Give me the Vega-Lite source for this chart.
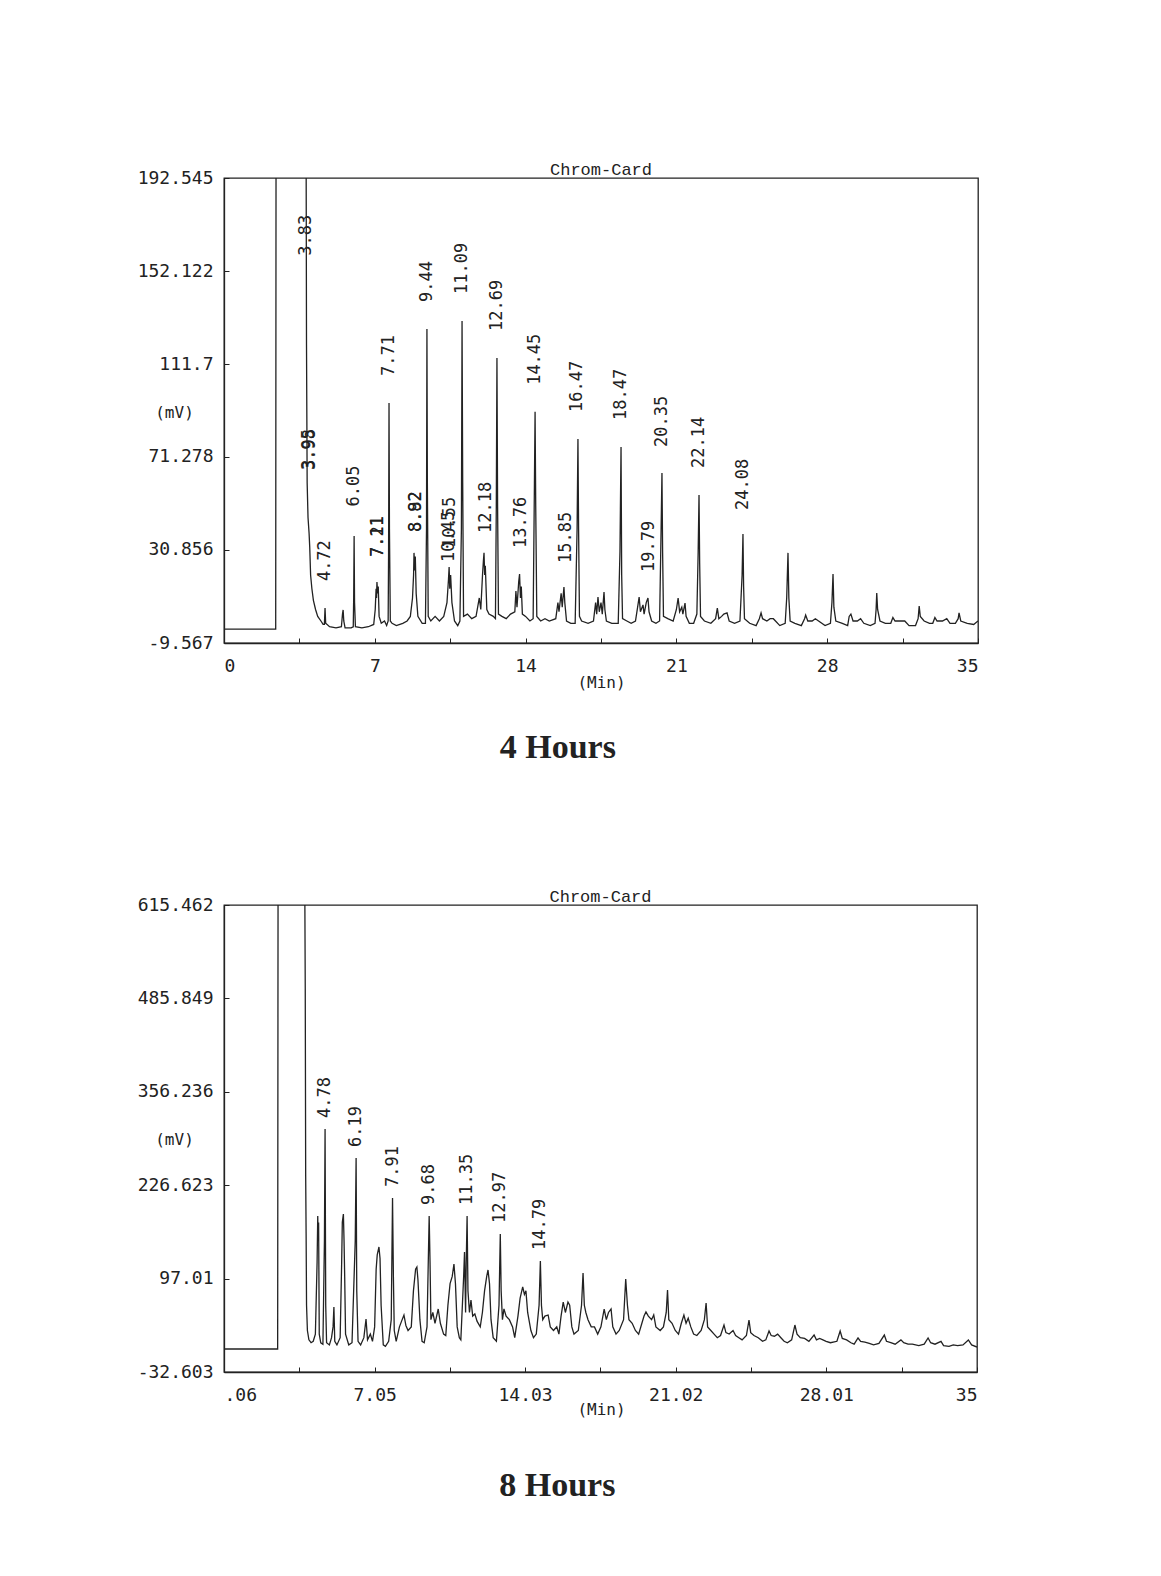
{
  "$schema": "https://vega.github.io/schema/vega-lite/v6.json",
  "background": "white",
  "padding": {"left": 136, "top": 160, "right": 5, "bottom": 5},
  "config": {
    "view": {"stroke": "#222", "strokeWidth": 1.3},
    "axis": {"domainColor": "#222", "domainWidth": 1.3, "tickColor": "#222", "labelColor": "#222", "labelFont": "DejaVu Sans Mono", "labelFontSize": 18, "titleFont": "DejaVu Sans Mono", "titleFontSize": 16, "titleFontWeight": "normal", "titleColor": "#222", "grid": false, "labelOverlap": false, "tickSize": -5},
    "title": {"font": "Liberation Mono", "fontSize": 17, "fontWeight": "normal", "color": "#222"}
  },
  "datasets": {
    "trace4": [
      {"t":0,"v":-3.5},{"t":2.40,"v":-3.5},{"t":2.42,"v":260},{"t":3.80,"v":260},{"t":3.83,"v":120},{"t":3.86,"v":60},{"t":3.90,"v":45},{"t":3.95,"v":38},{"t":3.98,"v":32},{"t":4.02,"v":20},{"t":4.08,"v":14},{"t":4.15,"v":9},{"t":4.25,"v":5},{"t":4.35,"v":2},{"t":4.5,"v":0},{"t":4.6,"v":-1.5},{"t":4.66,"v":-1.5},{"t":4.69,"v":5.6},{"t":4.72,"v":-1},{"t":4.9,"v":-2.5},{"t":5.2,"v":-3},{"t":5.45,"v":-2.5},{"t":5.50,"v":3},{"t":5.53,"v":4.8},{"t":5.56,"v":0},{"t":5.62,"v":-3},{"t":5.9,"v":-3},{"t":6.00,"v":-2.5},{"t":6.02,"v":10},{"t":6.04,"v":36.9},{"t":6.06,"v":8},{"t":6.1,"v":-2.5},{"t":6.4,"v":-3},{"t":6.7,"v":-2.5},{"t":6.95,"v":-1.5},{"t":7.02,"v":5},{"t":7.06,"v":14},{"t":7.08,"v":10},{"t":7.10,"v":16.9},{"t":7.13,"v":12},{"t":7.16,"v":15},{"t":7.2,"v":2},{"t":7.3,"v":-1},{"t":7.45,"v":0},{"t":7.55,"v":-2},{"t":7.62,"v":0},{"t":7.64,"v":30},{"t":7.66,"v":94.8},{"t":7.68,"v":40},{"t":7.72,"v":0},{"t":7.8,"v":-1},{"t":8.0,"v":-2},{"t":8.3,"v":-1},{"t":8.5,"v":0},{"t":8.65,"v":2},{"t":8.75,"v":10},{"t":8.80,"v":20},{"t":8.82,"v":29.6},{"t":8.85,"v":22},{"t":8.88,"v":28},{"t":8.92,"v":12},{"t":9.0,"v":2},{"t":9.2,"v":-1},{"t":9.35,"v":-1},{"t":9.40,"v":40},{"t":9.42,"v":126.9},{"t":9.44,"v":60},{"t":9.48,"v":2},{"t":9.6,"v":0},{"t":9.8,"v":2},{"t":10.0,"v":0},{"t":10.2,"v":2},{"t":10.35,"v":8},{"t":10.42,"v":18},{"t":10.45,"v":23.5},{"t":10.48,"v":14},{"t":10.52,"v":20},{"t":10.58,"v":8},{"t":10.7,"v":0},{"t":10.85,"v":-2},{"t":10.95,"v":0},{"t":11.02,"v":40},{"t":11.05,"v":130.4},{"t":11.08,"v":60},{"t":11.12,"v":2},{"t":11.3,"v":3},{"t":11.5,"v":1},{"t":11.7,"v":2},{"t":11.85,"v":10},{"t":11.92,"v":5},{"t":12.0,"v":20},{"t":12.04,"v":26},{"t":12.07,"v":29.6},{"t":12.10,"v":20},{"t":12.13,"v":24},{"t":12.2,"v":5},{"t":12.3,"v":3},{"t":12.5,"v":2},{"t":12.6,"v":1},{"t":12.64,"v":50},{"t":12.67,"v":114.3},{"t":12.70,"v":50},{"t":12.74,"v":3},{"t":12.9,"v":2},{"t":13.1,"v":1},{"t":13.3,"v":3},{"t":13.5,"v":4},{"t":13.55,"v":13},{"t":13.6,"v":6},{"t":13.68,"v":17},{"t":13.72,"v":20.4},{"t":13.76,"v":10},{"t":13.8,"v":15},{"t":13.85,"v":3},{"t":14.0,"v":2},{"t":14.2,"v":0},{"t":14.35,"v":1},{"t":14.41,"v":60},{"t":14.44,"v":90.9},{"t":14.47,"v":50},{"t":14.52,"v":2},{"t":14.7,"v":0},{"t":14.9,"v":1},{"t":15.1,"v":0},{"t":15.4,"v":1},{"t":15.5,"v":8},{"t":15.55,"v":4},{"t":15.65,"v":12},{"t":15.7,"v":6},{"t":15.78,"v":14.8},{"t":15.82,"v":8},{"t":15.9,"v":0},{"t":16.1,"v":-1},{"t":16.3,"v":-1},{"t":16.39,"v":40},{"t":16.43,"v":79.1},{"t":16.46,"v":40},{"t":16.5,"v":2},{"t":16.6,"v":0},{"t":16.9,"v":-1},{"t":17.15,"v":0},{"t":17.25,"v":8},{"t":17.3,"v":3},{"t":17.36,"v":10.4},{"t":17.42,"v":4},{"t":17.5,"v":8},{"t":17.56,"v":3},{"t":17.64,"v":12.6},{"t":17.68,"v":5},{"t":17.75,"v":0},{"t":18.0,"v":-1},{"t":18.3,"v":-1},{"t":18.38,"v":30},{"t":18.43,"v":75.6},{"t":18.46,"v":20},{"t":18.5,"v":1},{"t":18.7,"v":0},{"t":18.9,"v":-1},{"t":19.1,"v":0},{"t":19.2,"v":6},{"t":19.27,"v":10.4},{"t":19.33,"v":4},{"t":19.45,"v":7},{"t":19.5,"v":3},{"t":19.6,"v":8},{"t":19.68,"v":10},{"t":19.73,"v":4},{"t":19.85,"v":0},{"t":20.05,"v":-1},{"t":20.22,"v":0},{"t":20.29,"v":40},{"t":20.33,"v":64.3},{"t":20.36,"v":30},{"t":20.4,"v":2},{"t":20.6,"v":1},{"t":20.85,"v":0},{"t":21.0,"v":5},{"t":21.08,"v":10},{"t":21.15,"v":4},{"t":21.25,"v":6},{"t":21.3,"v":3},{"t":21.4,"v":7.8},{"t":21.45,"v":2},{"t":21.6,"v":-1},{"t":21.8,"v":-1},{"t":21.95,"v":3},{"t":22.01,"v":30},{"t":22.05,"v":54.8},{"t":22.08,"v":25},{"t":22.12,"v":2},{"t":22.3,"v":0},{"t":22.6,"v":-1},{"t":22.82,"v":1},{"t":22.9,"v":5.6},{"t":22.97,"v":1},{"t":23.1,"v":2},{"t":23.2,"v":3},{"t":23.35,"v":3.5},{"t":23.45,"v":0},{"t":23.7,"v":-1},{"t":23.95,"v":0},{"t":24.05,"v":20},{"t":24.09,"v":37.8},{"t":24.12,"v":15},{"t":24.16,"v":1},{"t":24.4,"v":-1},{"t":24.7,"v":-2},{"t":24.85,"v":1},{"t":24.93,"v":3.5},{"t":25.0,"v":1},{"t":25.2,"v":0},{"t":25.35,"v":1},{"t":25.5,"v":1},{"t":25.6,"v":0},{"t":25.8,"v":-2},{"t":26.05,"v":-1},{"t":26.12,"v":10},{"t":26.18,"v":29.6},{"t":26.22,"v":10},{"t":26.28,"v":0},{"t":26.5,"v":-1},{"t":26.8,"v":-2},{"t":26.95,"v":1},{"t":27.0,"v":2.6},{"t":27.1,"v":0},{"t":27.3,"v":0},{"t":27.45,"v":1},{"t":27.6,"v":0},{"t":27.9,"v":-2},{"t":28.15,"v":-1},{"t":28.22,"v":8},{"t":28.27,"v":20.4},{"t":28.31,"v":6},{"t":28.4,"v":0},{"t":28.7,"v":-1},{"t":28.95,"v":-2},{"t":29.02,"v":2},{"t":29.1,"v":3},{"t":29.2,"v":0},{"t":29.4,"v":0},{"t":29.55,"v":1},{"t":29.7,"v":-1},{"t":30.0,"v":-2},{"t":30.22,"v":-1},{"t":30.27,"v":5},{"t":30.3,"v":12.2},{"t":30.34,"v":5},{"t":30.45,"v":0},{"t":30.7,"v":-1},{"t":30.95,"v":-1},{"t":31.05,"v":1.5},{"t":31.15,"v":0},{"t":31.4,"v":0},{"t":31.6,"v":0},{"t":31.8,"v":-2},{"t":32.1,"v":-2},{"t":32.22,"v":1},{"t":32.27,"v":6.5},{"t":32.32,"v":2},{"t":32.5,"v":0},{"t":32.75,"v":-1},{"t":32.9,"v":-1},{"t":33.0,"v":1.5},{"t":33.1,"v":0},{"t":33.35,"v":0},{"t":33.55,"v":1},{"t":33.7,"v":-1},{"t":33.95,"v":-1},{"t":34.08,"v":1},{"t":34.12,"v":3.5},{"t":34.2,"v":0},{"t":34.5,"v":-1},{"t":34.8,"v":-1.5},{"t":35.0,"v":0}
    ],
    "peaks4": [
      {"t":3.81,"v":147,"label":"3.83"},{"t":3.93,"v":53.9,"label":"3.95"},{"t":3.97,"v":53.9,"label":"3.98"},{"t":4.69,"v":5.6,"label":"4.72"},{"t":6.04,"v":38,"label":"6.05"},{"t":7.13,"v":16.1,"label":"7.11"},{"t":7.17,"v":16.1,"label":"7.21"},{"t":7.66,"v":94.8,"label":"7.71"},{"t":8.89,"v":26.9,"label":"8.82"},{"t":8.93,"v":26.9,"label":"8.92"},{"t":9.42,"v":126.9,"label":"9.44"},{"t":10.43,"v":13.9,"label":"10.45"},{"t":10.47,"v":20,"label":"10.55"},{"t":11.05,"v":130.4,"label":"11.09"},{"t":12.16,"v":26.5,"label":"12.18"},{"t":12.67,"v":114.3,"label":"12.69"},{"t":13.8,"v":20,"label":"13.76"},{"t":14.44,"v":90.9,"label":"14.45"},{"t":15.87,"v":13.5,"label":"15.85"},{"t":16.4,"v":79.1,"label":"16.47"},{"t":18.43,"v":75.6,"label":"18.47"},{"t":19.73,"v":9.6,"label":"19.79"},{"t":20.33,"v":63.9,"label":"20.35"},{"t":22.05,"v":54.8,"label":"22.14"},{"t":24.09,"v":36.5,"label":"24.08"}
    ],
    "trace8": [
      {"t":0.06,"v":-0.7},{"t":2.55,"v":-0.7},{"t":2.57,"v":700},{"t":3.80,"v":700},{"t":3.83,"v":500},{"t":3.85,"v":240},{"t":3.87,"v":160},{"t":3.89,"v":60},{"t":3.93,"v":25},{"t":4.0,"v":12},{"t":4.1,"v":8},{"t":4.2,"v":10},{"t":4.3,"v":20},{"t":4.38,"v":120},{"t":4.41,"v":183.9},{"t":4.43,"v":150},{"t":4.45,"v":175},{"t":4.48,"v":20},{"t":4.55,"v":8},{"t":4.65,"v":6},{"t":4.72,"v":150},{"t":4.75,"v":304.6},{"t":4.78,"v":60},{"t":4.82,"v":8},{"t":4.95,"v":5},{"t":5.05,"v":15},{"t":5.12,"v":30},{"t":5.16,"v":57.6},{"t":5.2,"v":10},{"t":5.3,"v":5},{"t":5.45,"v":15},{"t":5.52,"v":120},{"t":5.55,"v":175},{"t":5.60,"v":186.6},{"t":5.63,"v":150},{"t":5.66,"v":100},{"t":5.7,"v":20},{"t":5.85,"v":5},{"t":6.0,"v":8},{"t":6.15,"v":150},{"t":6.19,"v":264.4},{"t":6.22,"v":80},{"t":6.28,"v":10},{"t":6.4,"v":5},{"t":6.55,"v":15},{"t":6.65,"v":40.9},{"t":6.72,"v":12},{"t":6.85,"v":20},{"t":6.95,"v":10},{"t":7.05,"v":30},{"t":7.12,"v":110},{"t":7.17,"v":130},{"t":7.25,"v":140.9},{"t":7.30,"v":125},{"t":7.35,"v":60},{"t":7.45,"v":5},{"t":7.55,"v":3},{"t":7.7,"v":10},{"t":7.82,"v":40},{"t":7.88,"v":208.9},{"t":7.92,"v":100},{"t":7.96,"v":25},{"t":8.05,"v":10},{"t":8.2,"v":30},{"t":8.3,"v":38},{"t":8.41,"v":46.5},{"t":8.5,"v":32},{"t":8.6,"v":25},{"t":8.75,"v":30},{"t":8.85,"v":80},{"t":8.95,"v":110},{"t":9.01,"v":113.1},{"t":9.06,"v":95},{"t":9.15,"v":40},{"t":9.25,"v":10},{"t":9.35,"v":8},{"t":9.48,"v":30},{"t":9.58,"v":183.9},{"t":9.62,"v":120},{"t":9.66,"v":40},{"t":9.75,"v":50},{"t":9.85,"v":35},{"t":10.0,"v":54.8},{"t":10.1,"v":35},{"t":10.25,"v":20},{"t":10.35,"v":18},{"t":10.45,"v":60},{"t":10.55,"v":90},{"t":10.65,"v":100},{"t":10.73,"v":117.3},{"t":10.8,"v":90},{"t":10.88,"v":30},{"t":10.98,"v":15},{"t":11.05,"v":12},{"t":11.18,"v":100},{"t":11.22,"v":133.9},{"t":11.27,"v":50},{"t":11.3,"v":120},{"t":11.34,"v":183.9},{"t":11.38,"v":80},{"t":11.45,"v":50},{"t":11.52,"v":67.3},{"t":11.6,"v":45},{"t":11.7,"v":48},{"t":11.8,"v":38},{"t":11.95,"v":30},{"t":12.05,"v":50},{"t":12.15,"v":80},{"t":12.25,"v":100},{"t":12.31,"v":109},{"t":12.38,"v":90},{"t":12.45,"v":40},{"t":12.55,"v":15},{"t":12.7,"v":10},{"t":12.82,"v":60},{"t":12.88,"v":158.9},{"t":12.92,"v":80},{"t":12.98,"v":40},{"t":13.05,"v":55},{"t":13.15,"v":45},{"t":13.3,"v":40},{"t":13.45,"v":30},{"t":13.55,"v":15},{"t":13.7,"v":45},{"t":13.8,"v":70},{"t":13.92,"v":85.4},{"t":14.0,"v":75},{"t":14.07,"v":80},{"t":14.15,"v":50},{"t":14.3,"v":25},{"t":14.42,"v":15},{"t":14.55,"v":20},{"t":14.68,"v":60},{"t":14.74,"v":121.4},{"t":14.79,"v":60},{"t":14.85,"v":40},{"t":14.95,"v":45},{"t":15.1,"v":46.5},{"t":15.2,"v":30},{"t":15.35,"v":25},{"t":15.5,"v":30},{"t":15.6,"v":20},{"t":15.7,"v":45},{"t":15.8,"v":64.5},{"t":15.9,"v":50},{"t":16.02,"v":64.5},{"t":16.1,"v":60},{"t":16.2,"v":30},{"t":16.3,"v":20},{"t":16.5,"v":25},{"t":16.65,"v":60},{"t":16.72,"v":104.8},{"t":16.78,"v":60},{"t":16.85,"v":50},{"t":16.95,"v":40},{"t":17.1,"v":30},{"t":17.25,"v":30},{"t":17.4,"v":20},{"t":17.55,"v":30},{"t":17.7,"v":54.8},{"t":17.8,"v":40},{"t":17.9,"v":50},{"t":18.02,"v":54.8},{"t":18.1,"v":30},{"t":18.25,"v":20},{"t":18.4,"v":25},{"t":18.6,"v":40},{"t":18.7,"v":96.5},{"t":18.78,"v":60},{"t":18.85,"v":40},{"t":19.0,"v":35},{"t":19.15,"v":25},{"t":19.3,"v":20},{"t":19.45,"v":35},{"t":19.55,"v":45},{"t":19.64,"v":50.7},{"t":19.75,"v":45},{"t":19.9,"v":40},{"t":20.0,"v":46.5},{"t":20.1,"v":30},{"t":20.3,"v":25},{"t":20.45,"v":30},{"t":20.58,"v":50},{"t":20.64,"v":81.2},{"t":20.7,"v":40},{"t":20.85,"v":35},{"t":21.0,"v":25},{"t":21.15,"v":20},{"t":21.28,"v":35},{"t":21.4,"v":46.5},{"t":21.5,"v":35},{"t":21.6,"v":42},{"t":21.72,"v":30},{"t":21.85,"v":20},{"t":22.0,"v":18},{"t":22.2,"v":25},{"t":22.35,"v":40},{"t":22.43,"v":63.1},{"t":22.5,"v":30},{"t":22.65,"v":25},{"t":22.8,"v":20},{"t":22.95,"v":15},{"t":23.1,"v":18},{"t":23.26,"v":32.6},{"t":23.35,"v":22},{"t":23.5,"v":20},{"t":23.68,"v":25},{"t":23.8,"v":18},{"t":23.95,"v":15},{"t":24.1,"v":12},{"t":24.3,"v":18},{"t":24.42,"v":39.5},{"t":24.5,"v":22},{"t":24.65,"v":18},{"t":24.85,"v":15},{"t":25.05,"v":10},{"t":25.2,"v":12},{"t":25.35,"v":24.3},{"t":25.45,"v":18},{"t":25.6,"v":17},{"t":25.75,"v":20},{"t":25.9,"v":15},{"t":26.05,"v":10},{"t":26.2,"v":8},{"t":26.4,"v":12},{"t":26.55,"v":32.6},{"t":26.65,"v":20},{"t":26.8,"v":15},{"t":27.0,"v":14},{"t":27.2,"v":10},{"t":27.44,"v":18.7},{"t":27.55,"v":12},{"t":27.7,"v":14},{"t":27.85,"v":12},{"t":28.0,"v":10},{"t":28.2,"v":8},{"t":28.5,"v":10},{"t":28.65,"v":24.3},{"t":28.75,"v":14},{"t":28.95,"v":12},{"t":29.15,"v":8},{"t":29.3,"v":6},{"t":29.48,"v":14.6},{"t":29.6,"v":10},{"t":29.8,"v":9},{"t":30.0,"v":7},{"t":30.2,"v":5},{"t":30.45,"v":7},{"t":30.7,"v":18.7},{"t":30.8,"v":10},{"t":31.0,"v":8},{"t":31.2,"v":6},{"t":31.47,"v":12},{"t":31.6,"v":8},{"t":31.8,"v":6},{"t":32.0,"v":6},{"t":32.3,"v":4},{"t":32.55,"v":6},{"t":32.73,"v":14.6},{"t":32.85,"v":8},{"t":33.05,"v":6},{"t":33.33,"v":10},{"t":33.45,"v":4},{"t":33.7,"v":3},{"t":33.9,"v":5},{"t":34.1,"v":4},{"t":34.35,"v":5},{"t":34.6,"v":11.8},{"t":34.75,"v":5},{"t":35.0,"v":2}
    ],
    "peaks8": [
      {"t":4.75,"v":304.6,"label":"4.78"},{"t":6.19,"v":264.4,"label":"6.19"},{"t":7.88,"v":208.9,"label":"7.91"},{"t":9.58,"v":183.9,"label":"9.68"},{"t":11.34,"v":183.9,"label":"11.35"},{"t":12.88,"v":158.9,"label":"12.97"},{"t":14.74,"v":121.4,"label":"14.79"}
    ]
  },
  "vconcat": [
    {
      "title": {"text": "4 Hours", "orient": "bottom", "anchor": "middle", "frame": "bounds", "font": "Liberation Serif", "fontSize": 34, "fontWeight": "bold", "color": "#222", "baseline": "top", "offset": 40},
      "vconcat": [
        {
          "width": 754,
          "height": 465,
          "title": {"text": "Chrom-Card", "anchor": "middle", "frame": "group", "baseline": "alphabetic", "offset": -23},
          "layer": [
            {
              "data": {"name": "trace4"},
              "mark": {"type": "line", "clip": true, "color": "#222", "strokeWidth": 1.3},
              "encoding": {
                "x": {"field": "t", "type": "quantitative", "scale": {"domain": [0, 35], "nice": false, "zero": false},
                  "axis": {"values": [0, 3.5, 7, 10.5, 14, 17.5, 21, 24.5, 28, 31.5, 35], "labelExpr": "datum.value % 7 === 0 ? '' + datum.value : ''", "labelFlush": true, "labelPadding": 19, "title": "(Min)", "titleX": 377, "titleY": 39, "titleAlign": "center", "titleBaseline": "middle"}},
                "y": {"field": "v", "type": "quantitative", "scale": {"domain": [-9.567, 192.545], "nice": false, "zero": false},
                  "axis": {"values": [-9.567, 30.856, 71.278, 111.7, 152.122, 192.545], "labelExpr": "'' + datum.value", "labelFlush": false, "labelPadding": 16, "title": "(mV)", "titleAngle": 0, "titleX": -50, "titleY": 234, "titleAlign": "center", "titleBaseline": "middle"}}
              }
            },
            {
              "data": {"name": "peaks4"},
              "mark": {"type": "text", "angle": 270, "align": "left", "baseline": "middle", "dx": 27, "font": "DejaVu Sans Mono", "fontSize": 17, "color": "#222"},
              "encoding": {
                "x": {"field": "t", "type": "quantitative"},
                "y": {"field": "v", "type": "quantitative"},
                "text": {"field": "label"}
              }
            }
          ]
        }
      ]
    },
    {
      "title": {"text": "8 Hours", "orient": "bottom", "anchor": "middle", "frame": "bounds", "font": "Liberation Serif", "fontSize": 34, "fontWeight": "bold", "color": "#222", "baseline": "top", "offset": 51},
      "vconcat": [
        {
          "width": 753,
          "height": 467,
          "title": {"text": "Chrom-Card", "anchor": "middle", "frame": "group", "baseline": "alphabetic", "offset": -23},
          "layer": [
            {
              "data": {"name": "trace8"},
              "mark": {"type": "line", "clip": true, "color": "#222", "strokeWidth": 1.3},
              "encoding": {
                "x": {"field": "t", "type": "quantitative", "scale": {"domain": [0.06, 35], "nice": false, "zero": false},
                  "axis": {"values": [0.06, 3.555, 7.05, 10.54, 14.03, 17.525, 21.02, 24.515, 28.01, 31.505, 35], "labelExpr": "indexof([0.06, 7.05, 14.03, 21.02, 28.01, 35], datum.value) >= 0 ? (datum.value < 1 ? '.06' : (datum.value == 35 ? '35' : format(datum.value, '.2f'))) : ''", "labelFlush": true, "labelPadding": 19, "title": "(Min)", "titleX": 377, "titleY": 37, "titleAlign": "center", "titleBaseline": "middle"}},
                "y": {"field": "v", "type": "quantitative", "scale": {"domain": [-32.603, 615.462], "nice": false, "zero": false},
                  "axis": {"values": [-32.603, 97.01, 226.623, 356.236, 485.849, 615.462], "labelExpr": "'' + datum.value", "labelFlush": false, "labelPadding": 16, "title": "(mV)", "titleAngle": 0, "titleX": -50, "titleY": 234, "titleAlign": "center", "titleBaseline": "middle"}}
              }
            },
            {
              "data": {"name": "peaks8"},
              "mark": {"type": "text", "angle": 270, "align": "left", "baseline": "middle", "dx": 11, "font": "DejaVu Sans Mono", "fontSize": 17, "color": "#222"},
              "encoding": {
                "x": {"field": "t", "type": "quantitative"},
                "y": {"field": "v", "type": "quantitative"},
                "text": {"field": "label"}
              }
            }
          ]
        }
      ]
    }
  ],
  "spacing": 122
}
